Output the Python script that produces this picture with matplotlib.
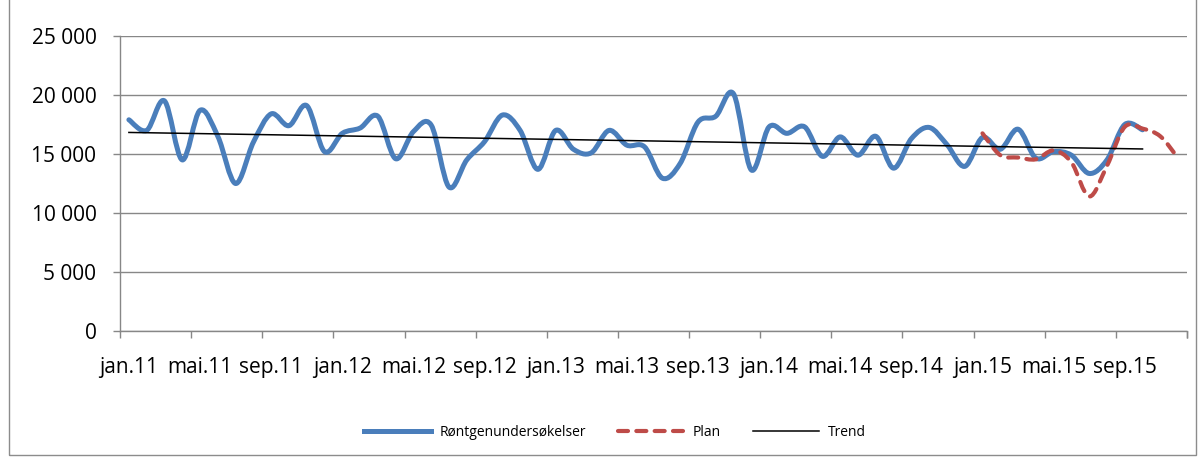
import numpy as np
import matplotlib
matplotlib.use("Agg")
import matplotlib.pyplot as plt
from matplotlib.path import Path
from matplotlib.patches import PathPatch, Rectangle
from matplotlib.lines import Line2D
from matplotlib.ticker import FuncFormatter

# monthly x-ray examinations, jan.11 - okt.15
xray = [17900, 17000, 19500, 14500, 18700, 16500, 12500, 16000, 18400, 17400, 19100, 15200,
        16750, 17200, 18200, 14600, 16900, 17450, 12200, 14500, 16050, 18300, 17000, 13700,
        17000, 15400, 15100, 17000, 15750, 15600, 12950, 14200, 17700, 18200, 20100, 13650,
        17300, 16750, 17300, 14800, 16450, 14900, 16500, 13800, 16300, 17250, 15800, 13950,
        16400, 15400, 17100, 14650, 15200, 14900, 13350, 14500, 17500, 17050]
# plan for 2015, jan.15 - des.15
plan = [16750, 14900, 14700, 14550, 15300, 14300, 11400, 14000, 17300, 17150, 16500, 14650]
plan_start = 48
n_months = 60

labels = ["jan.11", "mai.11", "sep.11", "jan.12", "mai.12", "sep.12", "jan.13", "mai.13",
          "sep.13", "jan.14", "mai.14", "sep.14", "jan.15", "mai.15", "sep.15"]

BLUE = "#4A7EBB"
RED = "#BE4B48"
GRID = "#878787"

plt.rcParams["font.family"] = ["Open Sans", "DejaVu Sans"]


def smooth_path(x, y):
    # cubic bezier through every point (same smoothing as a spreadsheet line chart)
    pts = np.column_stack([x, y]).astype(float)
    n = len(pts)
    verts = [pts[0]]
    codes = [Path.MOVETO]
    for i in range(n - 1):
        p0 = pts[i - 1] if i > 0 else pts[i]
        p1 = pts[i]
        p2 = pts[i + 1]
        p3 = pts[i + 2] if i + 2 < n else pts[i + 1]
        verts += [p1 + (p2 - p0) / 6, p2 - (p3 - p1) / 6, p2]
        codes += [Path.CURVE4] * 3
    return Path(verts, codes)


fig = plt.figure(figsize=(12.03, 4.57), dpi=100)
fig.add_artist(Rectangle((8.5 / 1203, 2.5 / 457), 1187 / 1203, 1.2, transform=fig.transFigure,
                         fill=False, edgecolor="#8c8c8c", lw=1.0))
ax = fig.add_axes([120 / 1203, 1 - 331 / 457, 1067 / 1203, 295 / 457])

x_xray = np.arange(len(xray))
x_plan = np.arange(plan_start, plan_start + len(plan))

ax.add_patch(PathPatch(smooth_path(x_xray, xray), fill=False, edgecolor=BLUE, lw=3.6,
                       capstyle="round", joinstyle="round", zorder=3))
ax.add_patch(PathPatch(smooth_path(x_plan, plan), fill=False, edgecolor=RED, lw=3.0,
                       linestyle=(0, (2.4, 2.0)), capstyle="round", zorder=4))

# linear trend of the examinations
k, m = np.polyfit(x_xray, xray, 1)
ax.plot(x_xray[[0, -1]], k * x_xray[[0, -1]] + m, color="black", lw=1.1, zorder=5)

ax.set_xlim(-0.5, n_months - 0.5)
ax.set_ylim(0, 25000)

ax.set_yticks(np.arange(0, 25001, 5000))
ax.yaxis.set_major_formatter(FuncFormatter(lambda v, p: f"{v:,.0f}".replace(",", " ")))
ax.grid(axis="y", color=GRID, lw=1.0)
ax.set_axisbelow(True)

ax.set_xticks(np.arange(0, n_months, 4))
ax.set_xticklabels(labels)
ax.set_xticks(np.arange(-0.5, n_months, 4).tolist() + [n_months - 0.5], minor=True)
ax.tick_params(axis="x", which="major", length=0, pad=19, labelsize=15, colors="black")
ax.tick_params(axis="x", which="minor", length=5, color=GRID, width=1.0)
ax.tick_params(axis="y", length=5, color=GRID, width=1.0, pad=12, labelsize=15)

for s in ["top", "right"]:
    ax.spines[s].set_visible(False)
for s in ["left", "bottom"]:
    ax.spines[s].set_color(GRID)
    ax.spines[s].set_linewidth(1.0)

handles = [Line2D([], [], color=BLUE, lw=3.6),
           Line2D([], [], color=RED, lw=3.0, linestyle=(0, (2.4, 2.0)), dash_capstyle="round"),
           Line2D([], [], color="black", lw=1.1)]
fig.legend(handles, ["Røntgenundersøkelser", "Plan", "Trend"], loc="center",
           bbox_to_anchor=(615 / 1203, 1 - 432 / 457), ncol=3, frameon=False, fontsize=10,
           handlelength=4.8, handletextpad=0.6, columnspacing=2.3)

fig.savefig("out.png", dpi=100)
